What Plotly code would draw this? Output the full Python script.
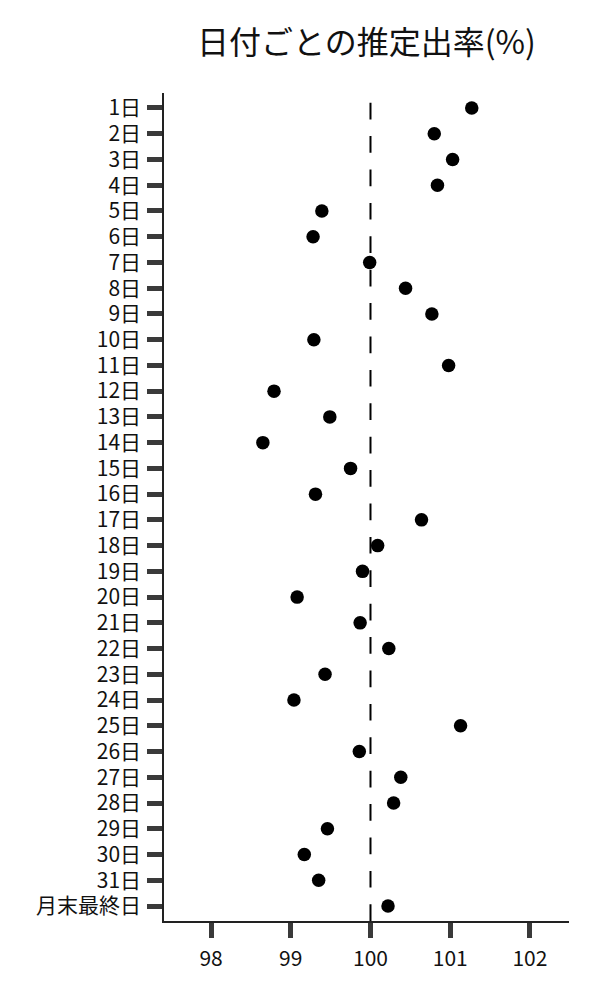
import plotly.graph_objects as go

FONT = "Noto Sans CJK JP"

days = [f"{d}日" for d in range(1, 32)] + ["月末最終日"]
rates = [
    101.27, 100.80, 101.03, 100.84, 99.39, 99.28, 99.99, 100.44,
    100.77, 99.29, 100.98, 98.79, 99.49, 98.65, 99.75, 99.31,
    100.64, 100.09, 99.90, 99.08, 99.87, 100.23, 99.43, 99.04,
    101.13, 99.86, 100.38, 100.29, 99.46, 99.17, 99.35, 100.22,
]
ref_value = 100
x_ticks = [98, 99, 100, 101, 102]
title = "日付ごとの推定出率(%)"


def make_fig():
    fig = go.Figure()

    fig.add_trace(go.Scatter(
        x=rates, y=days, mode="markers",
        marker=dict(color="black", size=13.5),
        showlegend=False, cliponaxis=False,
    ))

    # reference line at 100%, drawn bottom-up so the dash pattern starts at the axis
    fig.add_shape(type="line", xref="x", yref="paper",
                  x0=ref_value, x1=ref_value, y0=0, y1=1,
                  line=dict(color="black", width=2, dash="16.7px,16.7px"),
                  layer="below")

    fig.update_layout(
        width=600, height=1000,
        margin=dict(l=156, r=39, t=85, b=87),
        paper_bgcolor="white", plot_bgcolor="white",
        font=dict(family=FONT, size=21, color="#111111"),
        title=dict(text=title, x=0.5, xref="paper", xanchor="center",
                   y=0.965, yref="container", yanchor="middle",
                   font=dict(family=FONT, size=32, color="#111111")),
    )

    fig.update_xaxes(
        range=[97.41, 102.49], tickvals=x_ticks, ticktext=[str(v) for v in x_ticks],
        showgrid=False, zeroline=False,
        showline=True, linecolor="#222222", linewidth=1.5,
        ticks="outside", ticklen=15, tickwidth=4.5, tickcolor="#3a3a3a",
        ticklabelstandoff=3,
    )
    fig.update_yaxes(
        type="category", categoryorder="array", categoryarray=days,
        range=[31.58, -0.58],
        showgrid=False, zeroline=False,
        showline=True, linecolor="#222222", linewidth=1.5,
        ticks="outside", ticklen=15, tickwidth=4.5, tickcolor="#3a3a3a",
        ticklabelstandoff=2,
    )
    return fig


if __name__ == "__main__":
    fig = make_fig()
    fig.write_html("out.html")
